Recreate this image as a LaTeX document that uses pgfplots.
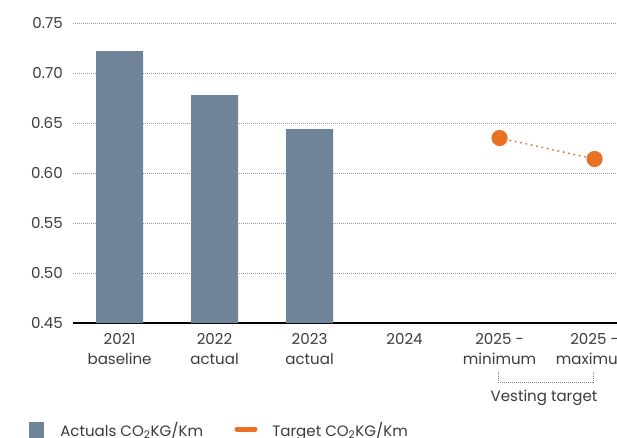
\documentclass[border=0pt]{standalone}
\usepackage{fontspec}
\setmainfont{Poppins}
\usepackage{pgfplots}
\pgfplotsset{compat=1.18}
\definecolor{barc}{RGB}{111,131,153}
\definecolor{orc}{RGB}{232,113,34}
\definecolor{txt}{RGB}{60,60,60}

\begin{document}
\begin{tikzpicture}[font=\fontsize{11.3}{15}\selectfont, text=txt]
  \begin{axis}[
    scale only axis, width=426.1pt, height=225pt,
    xmin=-0.49, xmax=5.49, ymin=0.45, ymax=0.75,
    axis x line*=bottom, axis y line*=left,
    y axis line style={draw=none},
    x axis line style={black, line width=2pt},
    major tick length=0pt,
    ytick={0.45,0.50,0.55,0.60,0.65,0.70,0.75},
    yticklabel style={/pgf/number format/fixed, /pgf/number format/fixed zerofill, /pgf/number format/precision=2},
    yticklabel style={anchor=east, inner sep=0pt, xshift=-7.5pt, text=txt},
    /pgf/number format/assume math mode=true,
    ymajorgrids, grid style={gray!80, line width=0.6pt, dash pattern=on 0.75pt off 0.75pt},
    xtick={0,1,2,3,4,5},
    xticklabels={{2021\\baseline},{2022\\actual},{2023\\actual},{2024},{2025 -\\minimum},{2025 -\\maximum}},
    xticklabel style={align=center, anchor=north, inner sep=0pt, yshift=-7.5pt, text=txt},
  ]
    % actuals
    \addplot[ybar, bar width=35.25pt, fill=barc, draw=none] coordinates {
      (0,0.722)
      (1,0.678)
      (2,0.644)
    };
    % target
    \addplot[orc, line width=1.6pt, line cap=round, dash pattern=on 0pt off 4.1pt,
      mark=*, mark size=5.25pt, mark options={solid, fill=orc, draw=orc}] coordinates {
      (4,0.635)
      (5,0.614)
    };
  \end{axis}
  % vesting bracket
  \draw[gray, line width=0.6pt, dash pattern=on 0.75pt off 0.75pt]
    (318.75pt,-36.75pt) -- (318.75pt,-44.25pt) -- (390pt,-44.25pt) -- (390pt,-36.75pt);
  \node[text=txt] at (353.25pt,-56.25pt) {Vesting target};
  % legend
  \fill[barc] (-33pt,-74.25pt) rectangle (-21.75pt,-86pt);
  \node[anchor=base west, inner sep=0pt, text=txt] at (-9.75pt,-84.75pt) {Actuals CO\textsubscript{2}KG/Km};
  \draw[orc, line width=3.75pt, line cap=round] (123pt,-79.5pt) -- (136.5pt,-79.5pt);
  \node[anchor=base west, inner sep=0pt, text=txt] at (149.25pt,-84.75pt) {Target CO\textsubscript{2}KG/Km};
  \pgfresetboundingbox
  \path[use as bounding box] (-54.75pt,-85.5pt) rectangle (408pt,242.25pt);
\end{tikzpicture}
\end{document}
